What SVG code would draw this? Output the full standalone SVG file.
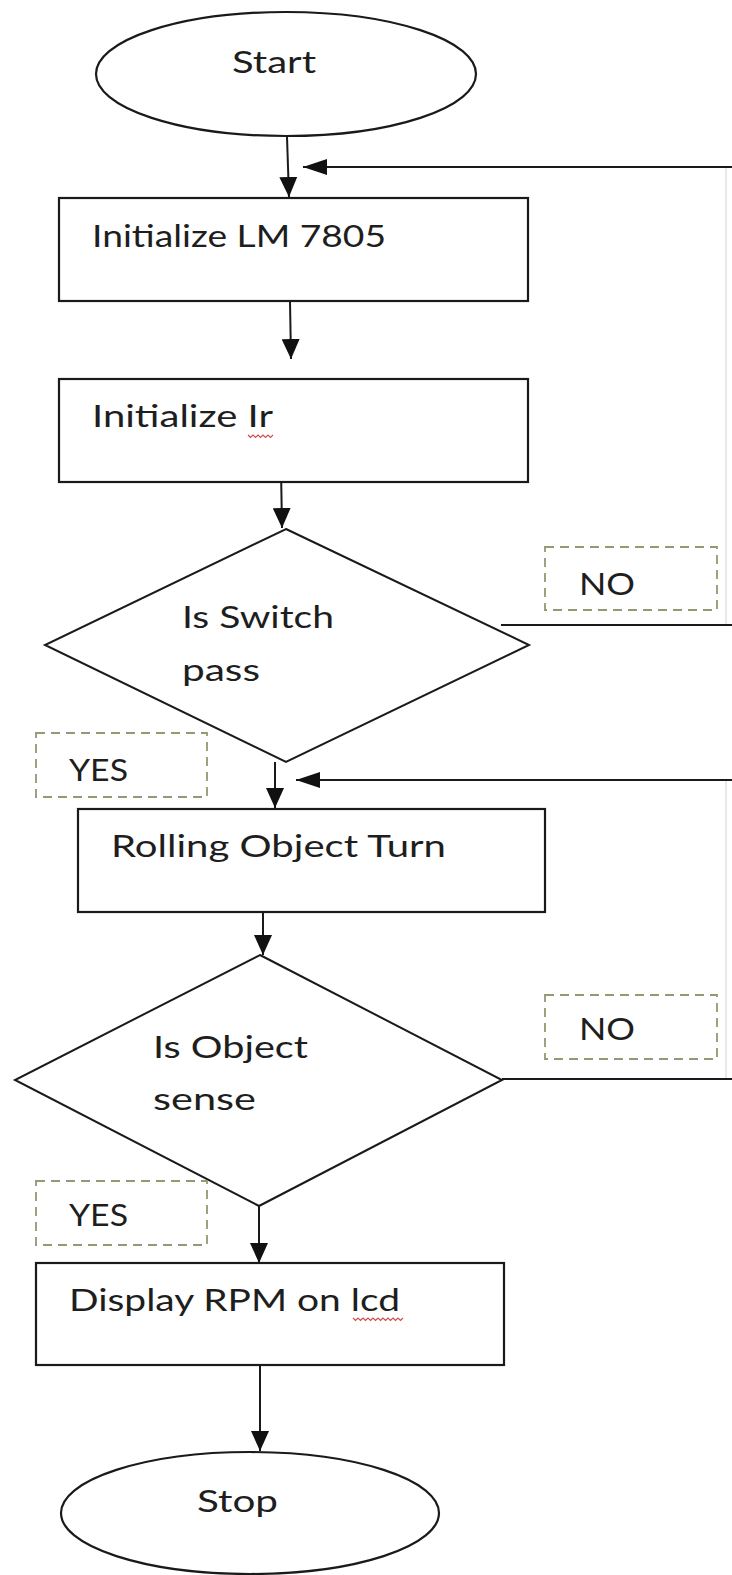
<svg xmlns="http://www.w3.org/2000/svg" width="732" height="1575" viewBox="0 0 732 1575">
<style>
.shape{fill:#fff;stroke:#1a1a1a;stroke-width:2.2}
.dia{fill:#fff;stroke:#1a1a1a;stroke-width:2}
.lbl{fill:none;stroke:#8f9b72;stroke-width:1.8;stroke-dasharray:9 6}
.t{font-family:Lato,"Open Sans","Liberation Sans",sans-serif;font-size:31px;fill:#1e1e1e}
.c{fill:none;stroke:#1a1a1a;stroke-width:2}
.faint{fill:none;stroke:#e2e2e2;stroke-width:1.5}
.sq{fill:none;stroke:#d04a4a;stroke-width:1.1}
</style>
<defs>
<marker id="down" viewBox="0 0 20 18" refX="20" refY="9" markerWidth="20" markerHeight="18" markerUnits="userSpaceOnUse" orient="auto">
<path d="M0,0 L20,9 L0,18 Z" fill="#111"/>
</marker>
<marker id="left" viewBox="0 0 24 16" refX="24" refY="8" markerWidth="24" markerHeight="16" markerUnits="userSpaceOnUse" orient="auto">
<path d="M0,0 L24,8 L0,16 Z" fill="#111"/>
</marker>
</defs>
<rect width="732" height="1575" fill="#fff"/>

<g id="connectors">
<line class="faint" x1="726" y1="167" x2="726" y2="625"/>
<line class="faint" x1="726" y1="780" x2="726" y2="1079"/>
<path class="c" d="M287,137 L289,197" marker-end="url(#down)"/>
<path class="c" d="M732,167 L303,167" marker-end="url(#left)"/>
<path class="c" d="M290,301 L291,359" marker-end="url(#down)"/>
<path class="c" d="M281,468 L282,528" marker-end="url(#down)"/>
<path class="c" d="M501,625 L732,625"/>
<path class="c" d="M275,762 L275,808" marker-end="url(#down)"/>
<path class="c" d="M732,780 L296,780" marker-end="url(#left)"/>
<path class="c" d="M263,912 L263,955" marker-end="url(#down)"/>
<path class="c" d="M502,1079 L732,1079"/>
<path class="c" d="M259,1206 L259,1263" marker-end="url(#down)"/>
<path class="c" d="M260,1365 L260,1451" marker-end="url(#down)"/>
</g>

<g id="start">
<ellipse class="shape" cx="286" cy="74" rx="190" ry="62"/>
<text class="t" x="232" y="73" textLength="84" lengthAdjust="spacingAndGlyphs">Start</text>
</g>

<g id="init-lm7805">
<rect class="shape" x="59" y="198" width="469" height="103"/>
<text class="t" x="92" y="247" textLength="294" lengthAdjust="spacingAndGlyphs">Initialize LM 7805</text>
</g>

<g id="init-ir">
<rect class="shape" x="59" y="379" width="469" height="103"/>
<text class="t" x="92" y="427" textLength="181" lengthAdjust="spacingAndGlyphs">Initialize Ir</text>
<path class="sq" d="M248,435 l2.5,2.5 l2.5,-2.5 l2.5,2.5 l2.5,-2.5 l2.5,2.5 l2.5,-2.5 l2.5,2.5 l2.5,-2.5 l2.5,2.5 l2.5,-2.5"/>
</g>

<g id="switch-decision">
<path class="dia" d="M286,529 L529,645 L286,762 L45,645 Z"/>
<text class="t" x="182" y="628" textLength="152" lengthAdjust="spacingAndGlyphs">Is Switch</text>
<text class="t" x="182" y="681" textLength="78" lengthAdjust="spacingAndGlyphs">pass</text>
</g>

<g id="no-label-1">
<rect class="lbl" x="545" y="547" width="172" height="63"/>
<text class="t" x="579" y="595" textLength="56" lengthAdjust="spacingAndGlyphs">NO</text>
</g>

<g id="yes-label-1">
<rect class="lbl" x="36" y="733" width="171" height="64"/>
<text class="t" x="69" y="781" textLength="59" lengthAdjust="spacingAndGlyphs">YES</text>
</g>

<g id="rolling">
<rect class="shape" x="78" y="809" width="467" height="103"/>
<text class="t" x="111" y="857" textLength="335" lengthAdjust="spacingAndGlyphs">Rolling Object Turn</text>
</g>

<g id="object-decision">
<path class="dia" d="M260,955 L502,1080 L259,1206 L15,1080 Z"/>
<text class="t" x="153" y="1058" textLength="155" lengthAdjust="spacingAndGlyphs">Is Object</text>
<text class="t" x="153" y="1110" textLength="103" lengthAdjust="spacingAndGlyphs">sense</text>
</g>

<g id="no-label-2">
<rect class="lbl" x="545" y="995" width="172" height="64"/>
<text class="t" x="579" y="1040" textLength="56" lengthAdjust="spacingAndGlyphs">NO</text>
</g>

<g id="yes-label-2">
<rect class="lbl" x="36" y="1181" width="171" height="64"/>
<text class="t" x="69" y="1226" textLength="59" lengthAdjust="spacingAndGlyphs">YES</text>
</g>

<g id="display">
<rect class="shape" x="36" y="1263" width="468" height="102"/>
<text class="t" x="69" y="1311" textLength="331" lengthAdjust="spacingAndGlyphs">Display RPM on lcd</text>
<path class="sq" d="M353,1318 l2.5,2.5 l2.5,-2.5 l2.5,2.5 l2.5,-2.5 l2.5,2.5 l2.5,-2.5 l2.5,2.5 l2.5,-2.5 l2.5,2.5 l2.5,-2.5 l2.5,2.5 l2.5,-2.5 l2.5,2.5 l2.5,-2.5 l2.5,2.5 l2.5,-2.5 l2.5,2.5 l2.5,-2.5 l2.5,2.5 l2.5,-2.5"/>
</g>

<g id="stop">
<ellipse class="shape" cx="250" cy="1513" rx="189" ry="61"/>
<text class="t" x="197" y="1512" textLength="81" lengthAdjust="spacingAndGlyphs">Stop</text>
</g>
</svg>
